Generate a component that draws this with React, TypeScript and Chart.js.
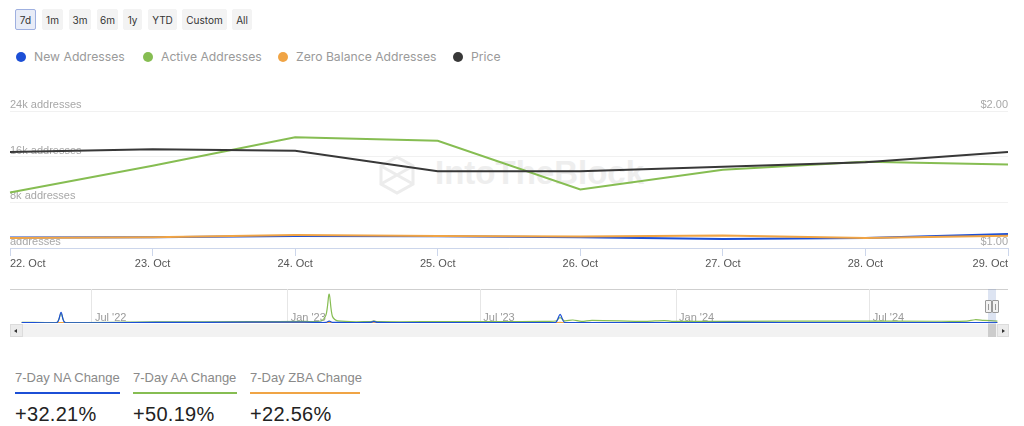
import React, { useEffect, useRef } from "react";
import { Chart, registerables } from "chart.js";

Chart.register(...registerables);

// ---- main chart data ----
const dates = ["22. Oct", "23. Oct", "24. Oct", "25. Oct", "26. Oct", "27. Oct", "28. Oct", "29. Oct"];
const newAddresses = [1840, 1900, 2090, 2060, 1900, 1570, 1740, 2432];
const activeAddresses = [9740, 14400, 19400, 18800, 10260, 13700, 15100, 14629];
const zeroBalanceAddresses = [1746, 1870, 2260, 2100, 2000, 2200, 1740, 2140];
const price = [1.7, 1.72, 1.71, 1.56, 1.56, 1.593, 1.626, 1.7];
const leftTicks = [0, 8000, 16000, 24000];
const rightTicks = [1, 2];

// ---- navigator data (days relative to 1 Jul 2022, values in thousands) ----
const navDays = [-66, -33, -29, -25, 60, 150, 200, 215, 220, 223, 226, 231, 262, 265, 268, 330, 380, 425, 436, 440, 444, 452, 460, 470, 520, 538, 545, 600, 700, 790, 822, 830, 838, 851];
const navNA = [3, 3, 78, 3, 4, 6, 6, 4, 5, 14, 5, 4, 4, 12, 4, 3, 3, 3, 5, 64, 5, 3, 3, 3, 3, 3, 3, 4, 3, 3, 3, 3, 3, 3];
const navAA = [5, 5, 70, 5, 8, 10, 12, 15, 60, 212, 50, 15, 10, 16, 10, 10, 10, 12, 15, 40, 16, 22, 12, 20, 12, 18, 12, 12, 14, 13, 14, 24, 20, 14];
const navZBA = [2, 2, 3, 2, 2, 3, 3, 3, 3, 4, 3, 3, 3, 3, 3, 3, 3, 3, 3, 4, 3, 3, 3, 3, 3, 3, 3, 3, 3, 3, 3, 3, 3, 3];
const navTickDays = [0, 184, 365, 549, 731];
const navTickLabels = ["Jul '22", "Jan '23", "Jul '23", "Jan '24", "Jul '24"];

const rangeButtons = ["7d", "1m", "3m", "6m", "1y", "YTD", "Custom", "All"];
const legendItems = ["New Addresses", "Active Addresses", "Zero Balance Addresses", "Price"];
const statLabels = ["7-Day NA Change", "7-Day AA Change", "7-Day ZBA Change"];
const statValues = ["+32.21%", "+50.19%", "+22.56%"];

const BLUE = "#1c4fd6";
const GREEN = "#86bd52";
const ORANGE = "#f0a445";
const DARK = "#383838";
const seriesColors = [BLUE, GREEN, ORANGE, DARK];

const buttonPos = [
  { x: 15, w: 21 },
  { x: 42, w: 21 },
  { x: 69, w: 22 },
  { x: 97, w: 21 },
  { x: 123, w: 19 },
  { x: 148, w: 29 },
  { x: 182, w: 45 },
  { x: 232, w: 20 },
];
const legendPos = [21, 148, 283, 458];
const statPos = [{ x: 15, w: 105 }, { x: 133, w: 104 }, { x: 250, w: 110 }];

const navLabelPlugin = {
  id: "navLabels",
  beforeDatasetsDraw(chart: any) {
    const ctx = chart.ctx;
    const xs = chart.scales.x;
    ctx.save();
    ctx.font = "11px 'Liberation Sans', Arial, sans-serif";
    ctx.fillStyle = "#9a9a9a";
    ctx.textAlign = "left";
    ctx.textBaseline = "middle";
    navTickDays.forEach((d, i) => {
      ctx.fillText(navTickLabels[i], xs.getPixelForValue(d) + 3, chart.chartArea.bottom - 5);
    });
    ctx.restore();
  },
};

export default function App() {
  const mainRef = useRef<HTMLCanvasElement>(null);
  const navRef = useRef<HTMLCanvasElement>(null);

  useEffect(() => {
    const tickFont = { family: "'Liberation Sans', Arial, sans-serif", size: 11 };
    const main = new Chart(mainRef.current as HTMLCanvasElement, {
      type: "line",
      data: {
        labels: dates,
        datasets: [
          { label: legendItems[0], data: newAddresses, borderColor: BLUE, yAxisID: "y", order: 4 },
          { label: legendItems[1], data: activeAddresses, borderColor: GREEN, yAxisID: "y", order: 3 },
          { label: legendItems[2], data: zeroBalanceAddresses, borderColor: ORANGE, yAxisID: "y", order: 2 },
          { label: legendItems[3], data: price, borderColor: DARK, yAxisID: "y1", order: 1 },
        ],
      },
      options: {
        responsive: false,
        animation: false,
        layout: { padding: { left: 10, right: 16, top: 16, bottom: 0 } },
        plugins: { legend: { display: false }, tooltip: { enabled: false } },
        elements: { point: { radius: 0 }, line: { borderWidth: 2, tension: 0 } },
        scales: {
          x: {
            type: "category",
            offset: false,
            grid: { drawOnChartArea: false, drawTicks: true, tickLength: 8, color: "#ccd6eb" },
            border: { display: true, color: "#ccd6eb" },
            ticks: { align: "inner", padding: 1, color: "#555", font: tickFont, maxRotation: 0, autoSkip: false },
            afterFit: (s: any) => {
              s.height = 27;
            },
          } as any,
          y: {
            position: "left",
            min: 0,
            max: 24000,
            afterBuildTicks: (s: any) => {
              s.ticks = leftTicks.map((v) => ({ value: v }));
            },
            grid: { color: "#f1f1f1", drawTicks: false },
            border: { display: false },
            ticks: {
              mirror: true,
              padding: 0,
              labelOffset: -6,
              color: "#a8a8a8",
              font: tickFont,
              callback: (v: any) => (v === 0 ? "addresses" : `${v / 1000}k addresses`),
            },
          },
          y1: {
            position: "right",
            min: 1,
            max: 2,
            afterBuildTicks: (s: any) => {
              s.ticks = rightTicks.map((v) => ({ value: v }));
            },
            grid: { display: false, drawTicks: false },
            border: { display: false },
            ticks: {
              mirror: true,
              padding: 0,
              labelOffset: -6,
              color: "#a8a8a8",
              font: tickFont,
              callback: (v: any) => "$" + Number(v).toFixed(2),
            },
          },
        },
      } as any,
    });

    const navSeries = [navNA, navAA, navZBA];
    const nav = new Chart(navRef.current as HTMLCanvasElement, {
      type: "line",
      data: {
        datasets: navSeries.map((arr, i) => ({
          label: legendItems[i],
          data: navDays.map((d, j) => ({ x: d, y: arr[j] })),
          borderColor: seriesColors[i],
          order: i === 0 ? 1 : i === 1 ? 2 : 3,
        })),
      },
      options: {
        responsive: false,
        animation: false,
        layout: { padding: { left: 10, right: 16, top: 4, bottom: 0 } },
        plugins: { legend: { display: false }, tooltip: { enabled: false } },
        elements: { point: { radius: 0 }, line: { borderWidth: 1.2, tension: 0.3 } },
        scales: {
          x: {
            type: "linear",
            min: -77,
            max: 861,
            afterBuildTicks: (s: any) => {
              s.ticks = navTickDays.map((v) => ({ value: v }));
            },
            grid: { color: "#e6e6e6", drawTicks: false },
            border: { display: false },
            ticks: { display: false },
          },
          y: { display: false, min: 0, max: 250 },
        },
      } as any,
      plugins: [navLabelPlugin],
    });

    return () => {
      main.destroy();
      nav.destroy();
    };
  }, []);

  const sans = "Inter, 'Noto Sans', Arial, sans-serif";
  const arial = "'Liberation Sans', Arial, sans-serif";

  return (
    <div
      style={{
        position: "fixed",
        left: 0,
        top: 0,
        width: 1024,
        height: 426,
        background: "#fff",
        overflow: "hidden",
        fontFamily: sans,
      }}
    >
      {/* range buttons */}
      {rangeButtons.map((b, i) => (
        <div
          key={b}
          style={{
            position: "absolute",
            left: buttonPos[i].x,
            top: 9,
            width: buttonPos[i].w,
            height: 21,
            boxSizing: "border-box",
            background: i === 0 ? "#e8ecf7" : "#f3f3f3",
            border: i === 0 ? "1px solid #9fb0e0" : "1px solid #f3f3f3",
            borderRadius: 2,
            fontSize: 10,
            color: "#333",
            display: "flex",
            alignItems: "center",
            justifyContent: "center",
          }}
        >
          {b}
        </div>
      ))}

      {/* legend */}
      {legendItems.map((l, i) => (
        <div key={l}>
          <div
            style={{
              position: "absolute",
              left: legendPos[i] - 5,
              top: 52,
              width: 10,
              height: 10,
              borderRadius: 5,
              background: seriesColors[i],
            }}
          />
          <div
            style={{
              position: "absolute",
              left: legendPos[i] + 13,
              top: 48,
              fontSize: 12.2,
              lineHeight: "18px",
              color: "#9a9a9a",
              whiteSpace: "nowrap",
            }}
          >
            {l}
          </div>
        </div>
      ))}

      {/* watermark */}
      <div style={{ position: "absolute", left: 378, top: 155, width: 38, height: 40 }}>
        <svg width="38" height="40" viewBox="0 0 38 40">
          <polygon points="19,2 35,11 35,29 19,38 3,29 3,11" fill="none" stroke="#ececec" strokeWidth="3" />
          <line x1="3" y1="11" x2="35" y2="29" stroke="#ececec" strokeWidth="3" />
          <line x1="35" y1="11" x2="3" y2="29" stroke="#ececec" strokeWidth="3" />
        </svg>
      </div>
      <div
        style={{
          position: "absolute",
          left: 435,
          top: 154,
          fontSize: 33,
          fontWeight: 700,
          fontFamily: arial,
          color: "#eeeeee",
          whiteSpace: "nowrap",
          lineHeight: "38px",
        }}
      >
        IntoTheBlock
      </div>

      {/* main chart */}
      <canvas
        ref={mainRef}
        width={1024}
        height={180}
        style={{ position: "absolute", left: 0, top: 95, width: 1024, height: 180 }}
      />

      {/* navigator */}
      <div style={{ position: "absolute", left: 10, top: 289, width: 998, height: 1, background: "#cfcfcf" }} />
      <canvas
        ref={navRef}
        width={1024}
        height={38}
        style={{ position: "absolute", left: 0, top: 285, width: 1024, height: 38 }}
      />
      {/* scrollbar track */}
      <div style={{ position: "absolute", left: 10, top: 324, width: 999, height: 13, background: "#f2f2f2" }} />
      <div
        style={{
          position: "absolute",
          left: 10,
          top: 324,
          width: 13,
          height: 13,
          boxSizing: "border-box",
          background: "#ebebeb",
          border: "1px solid #dcdcdc",
        }}
      >
        <div
          style={{
            position: "absolute",
            left: 3,
            top: 3.5,
            width: 0,
            height: 0,
            borderTop: "2.5px solid transparent",
            borderBottom: "2.5px solid transparent",
            borderRight: "3px solid #333",
          }}
        />
      </div>
      <div
        style={{
          position: "absolute",
          left: 997,
          top: 324,
          width: 12,
          height: 13,
          boxSizing: "border-box",
          background: "#ebebeb",
          border: "1px solid #dcdcdc",
        }}
      >
        <div
          style={{
            position: "absolute",
            left: 4,
            top: 3.5,
            width: 0,
            height: 0,
            borderTop: "2.5px solid transparent",
            borderBottom: "2.5px solid transparent",
            borderLeft: "3px solid #333",
          }}
        />
      </div>
      {/* selected range mask + thumb */}
      <div style={{ position: "absolute", left: 988, top: 289, width: 8, height: 35, background: "rgba(102,133,194,0.22)" }} />
      <div style={{ position: "absolute", left: 988, top: 324, width: 8, height: 13, background: "#cccccc" }} />
      {[985, 992].map((x) => (
        <div
          key={x}
          style={{
            position: "absolute",
            left: x,
            top: 300,
            width: 7,
            height: 13,
            boxSizing: "border-box",
            background: "#f2f2f2",
            border: "1px solid #999",
            borderRadius: 1,
          }}
        >
          <div style={{ position: "absolute", left: 2, top: 3, width: 1, height: 6, background: "#999" }} />
        </div>
      ))}

      {/* stats */}
      {statLabels.map((s, i) => (
        <div key={s}>
          <div
            style={{
              position: "absolute",
              left: statPos[i].x,
              top: 369,
              fontSize: 13,
              lineHeight: "18px",
              fontFamily: arial,
              color: "#8a8a8a",
              whiteSpace: "nowrap",
            }}
          >
            {s}
          </div>
          <div
            style={{
              position: "absolute",
              left: statPos[i].x,
              top: 392,
              width: statPos[i].w,
              height: 2,
              background: seriesColors[i],
            }}
          />
          <div
            style={{
              position: "absolute",
              left: statPos[i].x,
              top: 402,
              fontSize: 20,
              lineHeight: "24px",
              fontFamily: arial,
              color: "#222",
              letterSpacing: 0.3,
              whiteSpace: "nowrap",
            }}
          >
            {statValues[i]}
          </div>
        </div>
      ))}
    </div>
  );
}
